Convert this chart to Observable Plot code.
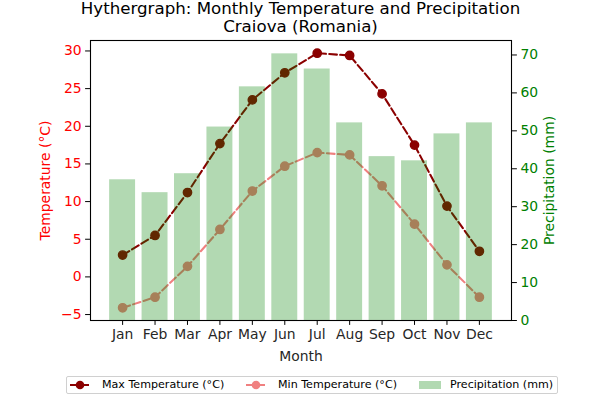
<!DOCTYPE html>
<html>
<head>
<meta charset="utf-8">
<script src="https://cdn.jsdelivr.net/npm/d3@7"></script>
<script src="https://cdn.jsdelivr.net/npm/@observablehq/plot@0.6"></script>
<style>
  body { margin: 0; background: #fff; font-family: "DejaVu Sans", sans-serif; }
  #wrap { position: relative; width: 600px; height: 400px; overflow: hidden; }
  #title { position: absolute; left: 0; top: 0; width: 601px; text-align: center; font-size: 16.67px; line-height: 18px; color: #000; }
  #legend { position: absolute; left: 66px; top: 376px; width: 492px; height: 18px; border: 1px solid #d0d0d0; border-radius: 2px; box-sizing: border-box; font-size: 11.1px; color: #000; }
  .item { position: absolute; top: 0; height: 16px; line-height: 16px; white-space: nowrap; }
  .item svg { position: absolute; top: 1px; left: 0; }
  .item span { position: absolute; top: 0; }
  #chart { position: absolute; left: 0; top: 0; }
</style>
</head>
<body>
<div id="wrap">
  <div id="chart"></div>
  <div id="title">Hythergraph: Monthly Temperature and Precipitation<br>Craiova (Romania)</div>
  <div id="legend"></div>
</div>
<script>
const months = ["Jan","Feb","Mar","Apr","May","Jun","Jul","Aug","Sep","Oct","Nov","Dec"];
const maxTemp = [2.9, 5.5, 11.2, 17.7, 23.5, 27.1, 29.7, 29.4, 24.3, 17.5, 9.4, 3.4];
const minTemp = [-4.1, -2.7, 1.4, 6.3, 11.4, 14.7, 16.5, 16.2, 12.1, 7.0, 1.6, -2.7];
const precip = [37.1, 33.7, 38.7, 51.0, 61.6, 70.3, 66.3, 52.1, 43.2, 42.1, 49.2, 52.1];
const tempTicks = [-5, 0, 5, 10, 15, 20, 25, 30];
const precipTicks = [0, 10, 20, 30, 40, 50, 60, 70];

const data = months.map((m, i) => ({i, month: m, tmax: maxTemp[i], tmin: minTemp[i], p: precip[i]}));

const allT = maxTemp.concat(minTemp);
const tMin = d3.min(allT), tMax = d3.max(allT), tPad = (tMax - tMin) * 0.05;
const tDomain = [tMin - tPad, tMax + tPad];
const pTop = d3.max(precip) * 1.05;
// map precipitation onto the temperature axis (twin axis)
const p2t = d3.scaleLinear().domain([0, pTop]).range(tDomain);

const fmt = d => d < 0 ? "\u2212" + Math.abs(d) : String(d);
const font = "DejaVu Sans, sans-serif";

const chart = Plot.plot({
  width: 600,
  height: 400,
  marginTop: 40,
  marginBottom: 80,
  marginLeft: 90,
  marginRight: 89,
  style: {fontFamily: font, fontSize: "13.9px", background: "transparent", overflow: "visible"},
  x: {type: "linear", domain: [-0.99, 11.99]},
  y: {domain: tDomain},
  marks: [
    Plot.line(data, {x: "i", y: "tmax", stroke: "#8b0000", strokeWidth: 2.08, strokeDasharray: "7.7,3.3"}),
    Plot.dot(data, {x: "i", y: "tmax", r: 4.17, fill: "#8b0000", stroke: "#8b0000", strokeWidth: 1.39}),
    Plot.line(data, {x: "i", y: "tmin", stroke: "#f08080", strokeWidth: 2.08, strokeDasharray: "7.7,3.3"}),
    Plot.dot(data, {x: "i", y: "tmin", r: 4.17, fill: "#f08080", stroke: "#f08080", strokeWidth: 1.39}),
    Plot.rectY(data, {x1: d => d.i - 0.4, x2: d => d.i + 0.4, y1: () => p2t(0), y2: d => p2t(d.p), fill: "green", fillOpacity: 0.3}),
    Plot.frame({stroke: "#000", strokeWidth: 1.1}),
    Plot.axisX({ticks: d3.range(12), tickFormat: i => months[i], tickSize: 4.9, tickPadding: 4, stroke: "#000", fill: "#262626",
      label: "Month", labelAnchor: "center", labelArrow: "none", labelOffset: 40}),
    Plot.axisY({anchor: "left", ticks: tempTicks, tickFormat: fmt, tickSize: 4.9, tickPadding: 4, stroke: "#000", fill: "red",
      label: "Temperature (°C)", labelAnchor: "center", labelArrow: "none", labelOffset: 50}),
    Plot.axisY({anchor: "right", ticks: precipTicks.map(p => p2t(p)), tickFormat: t => String(Math.round(p2t.invert(t))), tickSize: 4.9, tickPadding: 4, stroke: "#000", fill: "green",
      label: "Precipitation (mm)", labelAnchor: "center", labelArrow: "none", labelOffset: 42})
  ]
});
document.getElementById("chart").appendChild(chart);

// legend
const legendItems = [
  {label: "Max Temperature (°C)", color: "#8b0000", type: "line", x: 3, tx: 35},
  {label: "Min Temperature (°C)", color: "#f08080", type: "line", x: 179, tx: 211},
  {label: "Precipitation (mm)", color: "green", type: "patch", x: 352, tx: 383}
];
const legend = document.getElementById("legend");
for (const it of legendItems) {
  const div = document.createElement("div");
  div.className = "item";
  div.style.left = it.x + "px";
  let sw;
  if (it.type === "line") {
    sw = `<svg width="20" height="14"><line x1="0" x2="19" y1="7" y2="7" stroke="${it.color}" stroke-width="2"/><circle cx="10" cy="7" r="4.3" fill="${it.color}"/></svg>`;
  } else {
    sw = `<svg width="22" height="14"><rect x="0" y="3" width="22" height="8" fill="${it.color}" fill-opacity="0.3"/></svg>`;
  }
  div.innerHTML = sw + `<span style="left:${it.tx - it.x}px">${it.label}</span>`;
  legend.appendChild(div);
}
</script>
</body>
</html>
